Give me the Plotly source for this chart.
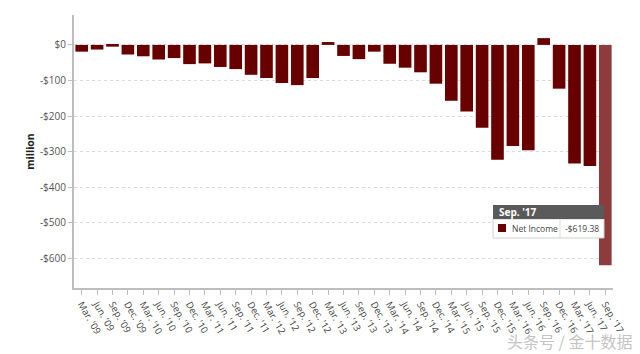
import plotly.graph_objects as go

quarters = ["Mar. '09", "Jun. '09", "Sep. '09", "Dec. '09",
            "Mar. '10", "Jun. '10", "Sep. '10", "Dec. '10",
            "Mar. '11", "Jun. '11", "Sep. '11", "Dec. '11",
            "Mar. '12", "Jun. '12", "Sep. '12", "Dec. '12",
            "Mar. '13", "Jun. '13", "Sep. '13", "Dec. '13",
            "Mar. '14", "Jun. '14", "Sep. '14", "Dec. '14",
            "Mar. '15", "Jun. '15", "Sep. '15", "Dec. '15",
            "Mar. '16", "Jun. '16", "Sep. '16", "Dec. '16",
            "Mar. '17", "Jun. '17", "Sep. '17"]
net_income = [-19, -13, -5, -27,
              -32, -41, -37, -54,
              -52, -62, -68, -84,
              -93, -107, -113, -93,
              8, -31, -40, -19,
              -53, -64, -77, -109,
              -157, -187, -233, -323,
              -284, -296, 19, -123,
              -333, -340, -619.38]
ytick_vals = [0, -100, -200, -300, -400, -500, -600]
ytick_text = ["$0", "-$100", "-$200", "-$300", "-$400", "-$500", "-$600"]

base_color = "#690000"
hover_color = "#8e3b3d"
colors = [base_color] * (len(net_income) - 1) + [hover_color]

fig = go.Figure()
fig.add_trace(go.Bar(x=quarters, y=net_income, marker_color=colors,
                     marker_line_width=0, name="Net Income"))

W, H = 640, 354
L, R, T, B = 74, 27, 15, 66
pw, ph = W - L - R, H - T - B

def px(x):
    return (x - L) / pw

def py(y):
    return (H - B - y) / ph

shapes = []
annotations = []
# tooltip
shapes.append(dict(type="rect", xref="paper", yref="paper",
                   x0=px(493), x1=px(604), y0=py(238), y1=py(219),
                   fillcolor="white", line=dict(color="#d0d0d0", width=1)))
shapes.append(dict(type="rect", xref="paper", yref="paper",
                   x0=px(493), x1=px(604), y0=py(219), y1=py(205),
                   fillcolor="#5a5a5a", line=dict(width=0)))
shapes.append(dict(type="rect", xref="paper", yref="paper",
                   x0=px(498), x1=px(506), y0=py(232), y1=py(224),
                   fillcolor=base_color, line=dict(width=0)))
shapes.append(dict(type="line", xref="paper", yref="paper",
                   x0=px(560), x1=px(560), y0=py(237), y1=py(220),
                   line=dict(color="#d8d8d8", width=1)))
annotations.append(dict(text="<b>" + quarters[-1] + "</b>", xref="paper", yref="paper",
                        x=px(497), y=py(212), xanchor="left", yanchor="middle",
                        showarrow=False, font=dict(size=10, color="white", family="Open Sans")))
annotations.append(dict(text="Net Income", xref="paper", yref="paper",
                        x=px(510), y=py(228.5), xanchor="left", yanchor="middle",
                        showarrow=False, font=dict(size=8.5, color="#444", family="Open Sans")))
annotations.append(dict(text="-$%.2f" % abs(net_income[-1]), xref="paper", yref="paper",
                        x=px(563), y=py(228.5), xanchor="left", yanchor="middle",
                        showarrow=False, font=dict(size=8.5, color="#444", family="Open Sans")))
# watermark
annotations.append(dict(text="头条号 / 金十数据", xref="paper", yref="paper",
                        x=px(634), y=py(341), xanchor="right", yanchor="middle",
                        showarrow=False,
                        font=dict(size=16, color="#c4c4c4", family="Noto Sans CJK SC")))

fig.update_layout(
    width=W, height=H,
    margin=dict(l=L, r=R, t=T, b=B, pad=0),
    paper_bgcolor="white", plot_bgcolor="white",
    showlegend=False, bargap=0.18,
    font=dict(family="Open Sans", size=10, color="#444"),
    shapes=shapes, annotations=annotations,
    xaxis=dict(type="category", tickangle=60, showline=True, linecolor="#bdbdbd",
               linewidth=2, ticks="outside", ticklen=5, tickcolor="#bdbdbd",
               showgrid=False, tickfont=dict(size=9.5, color="#444")),
    yaxis=dict(range=[-683, 84], tickvals=ytick_vals, ticktext=ytick_text,
               showline=True, linecolor="#bdbdbd", linewidth=2,
               ticks="outside", ticklen=4, tickcolor="#bdbdbd",
               showgrid=True, gridcolor="#dcdcdc", griddash="dot", gridwidth=1,
               zeroline=False, tickfont=dict(size=10, color="#555"),
               title=dict(text="<b>million</b>", font=dict(size=10.5, color="#222"), standoff=3)),
)

fig.write_html("out.html")
